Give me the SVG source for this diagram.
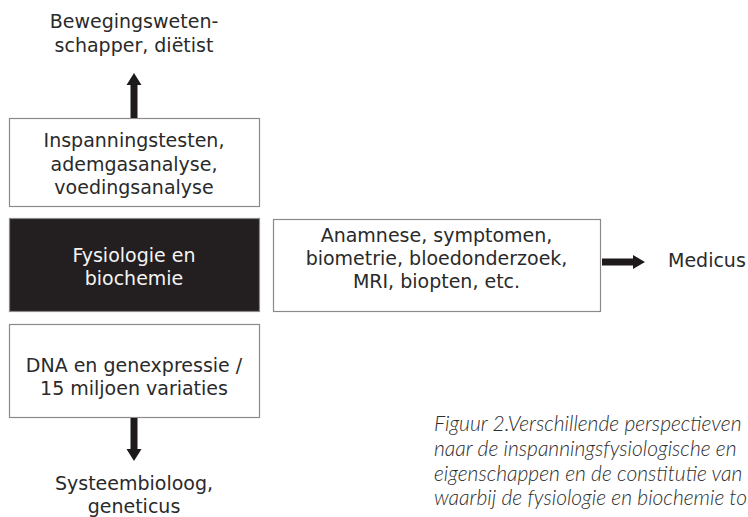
<svg xmlns="http://www.w3.org/2000/svg" width="748" height="517" viewBox="0 0 748 517">
<style>
.box{fill:#fff;stroke:#8a8a8a;stroke-width:1.2}
.dark{fill:#231f20;stroke:#8a8a8a;stroke-width:1.2}
.t{font-family:"DejaVu Sans",Verdana,sans-serif;font-size:19px;fill:#2a2a2a;text-anchor:middle}
.tw{fill:#f4f4f4}
.cap{font-family:Lato,"Open Sans",sans-serif;font-style:italic;font-weight:300;font-size:21px;fill:#2e2e2e}
.arr{fill:#1e1a1b}
</style>
<rect width="748" height="517" fill="#fff"/>
<g id="label-top">
<text class="t" x="134" y="28">Bewegingsweten-</text>
<text class="t" x="134" y="52">schapper, diëtist</text>
</g>
<g id="box-inspanning">
<rect class="box" x="9.5" y="118.5" width="250" height="88"/>
<text class="t" x="134" y="147">Inspanningstesten,</text>
<text class="t" x="134" y="171">ademgasanalyse,</text>
<text class="t" x="134" y="194">voedingsanalyse</text>
</g>
<g id="box-fysiologie">
<rect class="dark" x="9.5" y="218.5" width="250" height="93"/>
<text class="t tw" x="134" y="262">Fysiologie en</text>
<text class="t tw" x="134" y="285">biochemie</text>
</g>
<g id="box-anamnese">
<rect class="box" x="273.5" y="219.5" width="327" height="92"/>
<text class="t" x="436.5" y="242">Anamnese, symptomen,</text>
<text class="t" x="436.5" y="265">biometrie, bloedonderzoek,</text>
<text class="t" x="436.5" y="288">MRI, biopten, etc.</text>
</g>
<g id="box-dna">
<rect class="box" x="9.5" y="324.5" width="250" height="93"/>
<text class="t" x="134" y="372">DNA en genexpressie /</text>
<text class="t" x="134" y="395">15 miljoen variaties</text>
</g>
<g id="label-medicus">
<text class="t" x="668" y="267" style="text-anchor:start">Medicus</text>
</g>
<g id="label-bottom">
<text class="t" x="134" y="490">Systeembioloog,</text>
<text class="t" x="134" y="513">geneticus</text>
</g>
<g id="connectors">
<polygon class="arr" points="130.5,118 137.5,118 137.5,85 141.5,85 134,73 126.5,85 130.5,85"/>
<polygon class="arr" points="130.5,418 137.5,418 137.5,449 141.5,449 134,461 126.5,449 130.5,449"/>
<polygon class="arr" points="602,258.5 633,258.5 633,255 645,262 633,269 633,265.5 602,265.5"/>
</g>
<g id="caption">
<text class="cap" x="434" y="431">Figuur 2.Verschillende perspectieven</text>
<text class="cap" x="434" y="456">naar de inspanningsfysiologische en</text>
<text class="cap" x="434" y="481">eigenschappen en de constitutie van</text>
<text class="cap" x="434" y="505">waarbij de fysiologie en biochemie to</text>
</g>
</svg>
